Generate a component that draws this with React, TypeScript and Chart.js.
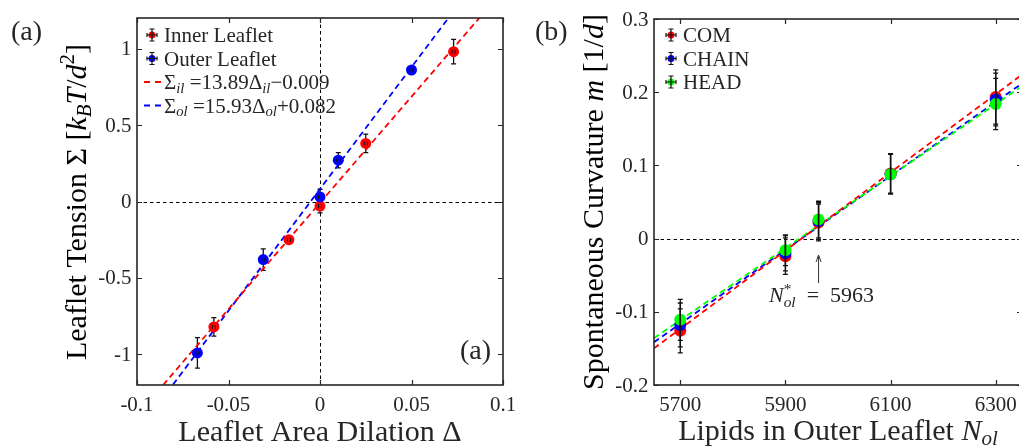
import React, { useEffect, useRef } from "react";
import { Chart, registerables } from "chart.js";
Chart.register(...registerables);

const FONT = '"Liberation Serif", "Times New Roman", serif';
const INK = "#262626";
const RED = "#ff0000";
const BLUE = "#0000ff";
const GREEN = "#00ff00";

// ---------- Panel (a) data ----------
const innerDilation = [-0.058, -0.017, 0.0, 0.025, 0.073];
const innerTension = [-0.82, -0.25, -0.03, 0.38, 0.98];
const innerTensionErr = [0.06, 0.025, 0.045, 0.06, 0.08];
const outerDilation = [-0.067, -0.031, 0.0, 0.01, 0.05];
const outerTension = [-0.99, -0.38, 0.03, 0.27, 0.86];
const outerTensionErr = [0.1, 0.07, 0.05, 0.05, 0.02];
const innerFit = [13.89, -0.009]; // slope, intercept (from legend)
const outerFit = [15.93, 0.082];
const aXRange = [-0.1, 0.1];
const aYRange = [-1.2, 1.2];
const aXTicks = [-0.1, -0.05, 0, 0.05, 0.1];
const aYTicks = [-1, -0.5, 0, 0.5, 1];

// ---------- Panel (b) data ----------
const lipidCounts = [5700, 5900, 5963, 6100, 6300];
const comCurv = [-0.126, -0.024, 0.022, 0.089, 0.1935];
const comErr = [0.03, 0.025, 0.025, 0.027, 0.037];
const chainCurv = [-0.118, -0.02, 0.024, 0.088, 0.19];
const chainErr = [0.03, 0.024, 0.025, 0.027, 0.036];
const headCurv = [-0.111, -0.016, 0.026, 0.088, 0.184];
const headErr = [0.028, 0.021, 0.025, 0.027, 0.035];
const fitLipids = [5650, 6350];
const comFitLine = [-0.15, 0.224];
const chainFitLine = [-0.1415, 0.212];
const headFitLine = [-0.136, 0.2084];
const nStar = 5963;
const bXRange = [5650, 6350];
const bYRange = [-0.2, 0.3];
const bXTicks = [5700, 5900, 6100, 6300];
const bYTicks = [-0.2, -0.1, 0, 0.1, 0.2, 0.3];

type Seg = { t: string; it?: boolean; sub?: boolean; sup?: boolean; stack?: [string, string] };

function setFont(ctx: CanvasRenderingContext2D, size: number, it: boolean) {
  ctx.font = `${it ? "italic " : ""}${size}px ${FONT}`;
}
function segWidth(ctx: CanvasRenderingContext2D, s: Seg, size: number) {
  const small = size * 0.7;
  if (s.stack) {
    setFont(ctx, small, false);
    const a = ctx.measureText(s.stack[0]).width;
    setFont(ctx, small, true);
    const b = ctx.measureText(s.stack[1]).width;
    return Math.max(a, b);
  }
  setFont(ctx, s.sub || s.sup ? small : size, !!s.it);
  return ctx.measureText(s.t).width;
}
function drawRich(ctx: CanvasRenderingContext2D, segs: Seg[], x: number, y: number, size: number, align = "left", color = "#000") {
  ctx.save();
  ctx.fillStyle = color;
  ctx.textBaseline = "alphabetic";
  ctx.textAlign = "left";
  const total = segs.reduce((w, s) => w + segWidth(ctx, s, size), 0);
  let cx = align === "center" ? x - total / 2 : align === "right" ? x - total : x;
  for (const s of segs) {
    const w = segWidth(ctx, s, size);
    const small = size * 0.7;
    if (s.stack) {
      setFont(ctx, small, false);
      ctx.fillText(s.stack[0], cx, y - size * 0.38);
      setFont(ctx, small, true);
      ctx.fillText(s.stack[1], cx, y + size * 0.22);
    } else {
      setFont(ctx, s.sub || s.sup ? small : size, !!s.it);
      const dy = s.sub ? size * 0.18 : s.sup ? -size * 0.4 : 0;
      ctx.fillText(s.t, cx, y + dy);
    }
    cx += w;
  }
  ctx.restore();
}
function drawRotated(ctx: CanvasRenderingContext2D, segs: Seg[], x: number, y: number, size: number) {
  ctx.save();
  ctx.translate(x, y);
  ctx.rotate(-Math.PI / 2);
  drawRich(ctx, segs, 0, 0, size, "center");
  ctx.restore();
}

function drawFrame(chart: any, xTicks: number[], yTicks: number[]) {
  const ctx: CanvasRenderingContext2D = chart.ctx;
  const { left, right, top, bottom } = chart.chartArea;
  const xs = chart.scales.x;
  const ys = chart.scales.y;
  ctx.save();
  ctx.strokeStyle = INK;
  ctx.lineWidth = 1.2;
  const L = 5;
  ctx.beginPath();
  for (const v of xTicks) {
    const p = Math.round(xs.getPixelForValue(v)) + 0.5;
    ctx.moveTo(p, bottom); ctx.lineTo(p, bottom - L);
    ctx.moveTo(p, top); ctx.lineTo(p, top + L);
  }
  for (const v of yTicks) {
    const p = Math.round(ys.getPixelForValue(v)) + 0.5;
    ctx.moveTo(left, p); ctx.lineTo(left + L, p);
    ctx.moveTo(right, p); ctx.lineTo(right - L, p);
  }
  ctx.stroke();
  ctx.lineWidth = 1.6;
  ctx.strokeRect(left, top, right - left, bottom - top);
  // tick labels
  ctx.fillStyle = INK;
  ctx.font = `21px ${FONT}`;
  ctx.textBaseline = "alphabetic";
  ctx.textAlign = "center";
  for (const v of xTicks) ctx.fillText(String(v), xs.getPixelForValue(v), bottom + 25.5);
  ctx.textAlign = "right";
  for (const v of yTicks) ctx.fillText(String(v), left - 5.5, ys.getPixelForValue(v) + 6.5);
  ctx.restore();
}

function drawErrBars(chart: any, xs: number[], ys: number[], es: number[], cap = 3) {
  const ctx: CanvasRenderingContext2D = chart.ctx;
  const sx = chart.scales.x;
  const sy = chart.scales.y;
  ctx.save();
  ctx.strokeStyle = "#111";
  ctx.lineWidth = 1.3;
  ctx.beginPath();
  xs.forEach((xv, i) => {
    const px = sx.getPixelForValue(xv);
    const t = sy.getPixelForValue(ys[i] + es[i]);
    const b = sy.getPixelForValue(ys[i] - es[i]);
    ctx.moveTo(px, t); ctx.lineTo(px, b);
    ctx.moveTo(px - cap, t); ctx.lineTo(px + cap, t);
    ctx.moveTo(px - cap, b); ctx.lineTo(px + cap, b);
  });
  ctx.stroke();
  ctx.restore();
}

function drawXCaps(chart: any, xs: number[], ys: number[]) {
  const ctx: CanvasRenderingContext2D = chart.ctx;
  const sx = chart.scales.x;
  const sy = chart.scales.y;
  ctx.save();
  ctx.strokeStyle = "#111";
  ctx.lineWidth = 1;
  ctx.beginPath();
  xs.forEach((xv, i) => {
    const px = sx.getPixelForValue(xv);
    const py = sy.getPixelForValue(ys[i]);
    ctx.moveTo(px - 1.5, py - 2); ctx.lineTo(px - 1.5, py + 2);
    ctx.moveTo(px + 1.5, py - 2); ctx.lineTo(px + 1.5, py + 2);
  });
  ctx.stroke();
  ctx.restore();
}

function legendErrIcon(ctx: CanvasRenderingContext2D, cx: number, cy: number, color: string) {
  ctx.save();
  ctx.fillStyle = color;
  ctx.beginPath();
  ctx.arc(cx, cy, 3.5, 0, Math.PI * 2);
  ctx.fill();
  ctx.strokeStyle = "#111";
  ctx.lineWidth = 1.2;
  ctx.beginPath();
  ctx.moveTo(cx, cy - 6); ctx.lineTo(cx, cy + 6);
  ctx.moveTo(cx - 2.5, cy - 6); ctx.lineTo(cx + 2.5, cy - 6);
  ctx.moveTo(cx - 2.5, cy + 6); ctx.lineTo(cx + 2.5, cy + 6);
  ctx.moveTo(cx - 5, cy); ctx.lineTo(cx + 5, cy);
  ctx.moveTo(cx - 5, cy - 2); ctx.lineTo(cx - 5, cy + 2);
  ctx.moveTo(cx + 5, cy - 2); ctx.lineTo(cx + 5, cy + 2);
  ctx.stroke();
  ctx.restore();
}
function legendDash(ctx: CanvasRenderingContext2D, x0: number, x1: number, y: number, color: string) {
  ctx.save();
  ctx.strokeStyle = color;
  ctx.lineWidth = 1.8;
  ctx.setLineDash([6, 5]);
  ctx.beginPath();
  ctx.moveTo(x0, y); ctx.lineTo(x1, y);
  ctx.stroke();
  ctx.restore();
}

function zeroLines(chart: any, vertical: boolean) {
  const ctx: CanvasRenderingContext2D = chart.ctx;
  const { left, right, top, bottom } = chart.chartArea;
  const py = Math.round(chart.scales.y.getPixelForValue(0)) + 0.5;
  ctx.save();
  ctx.strokeStyle = "#000";
  ctx.lineWidth = 1;
  ctx.setLineDash([3.5, 3]);
  ctx.beginPath();
  ctx.moveTo(left, py); ctx.lineTo(right, py);
  if (vertical) {
    const px = Math.round(chart.scales.x.getPixelForValue(0)) + 0.5;
    ctx.moveTo(px, top); ctx.lineTo(px, bottom);
  }
  ctx.stroke();
  ctx.restore();
}

const pts = (xs: number[], ys: number[]) => xs.map((x, i) => ({ x, y: ys[i] }));
const fitPts = (fit: number[], range: number[]) => range.map((x) => ({ x, y: fit[0] * x + fit[1] }));

function scaleCfg(range: number[], fixed: { width?: number; height?: number }) {
  return {
    type: "linear",
    min: range[0],
    max: range[1],
    grid: { display: false, drawTicks: false },
    border: { display: false },
    ticks: { display: false },
    afterFit: (s: any) => {
      if (fixed.width !== undefined) s.width = fixed.width;
      if (fixed.height !== undefined) s.height = fixed.height;
    },
  };
}

function configA(): any {
  const plugin = {
    id: "panelA",
    beforeDatasetsDraw(chart: any) {
      zeroLines(chart, true);
      drawErrBars(chart, innerDilation, innerTension, innerTensionErr, 2.5);
      drawErrBars(chart, outerDilation, outerTension, outerTensionErr, 2.5);
    },
    afterDatasetsDraw(chart: any) {
      drawXCaps(chart, innerDilation, innerTension);
      drawXCaps(chart, outerDilation, outerTension);
    },
    afterDraw(chart: any) {
      const ctx: CanvasRenderingContext2D = chart.ctx;
      drawFrame(chart, aXTicks, aYTicks);
      // legend
      legendErrIcon(ctx, 152, 35, RED);
      drawRich(ctx, [{ t: "Inner Leaflet" }], 164, 42, 21, "left", INK);
      legendErrIcon(ctx, 152, 58.5, BLUE);
      drawRich(ctx, [{ t: "Outer Leaflet" }], 164, 65.5, 21, "left", INK);
      legendDash(ctx, 144, 162, 82, RED);
      drawRich(ctx, [{ t: "Σ" }, { t: "il", it: true, sub: true }, { t: " =13.89Δ" }, { t: "il", it: true, sub: true }, { t: "−0.009" }], 164, 89, 21, "left", INK);
      legendDash(ctx, 144, 162, 105.5, BLUE);
      drawRich(ctx, [{ t: "Σ" }, { t: "ol", it: true, sub: true }, { t: " =15.93Δ" }, { t: "ol", it: true, sub: true }, { t: "+0.082" }], 164, 112.5, 21, "left", INK);
      // panel labels
      drawRich(ctx, [{ t: "(a)" }], 11, 40, 28, "left", INK);
      drawRich(ctx, [{ t: "(a)" }], 460, 359, 28, "left", INK);
      // axis titles
      drawRich(ctx, [{ t: "Leaflet Area Dilation Δ" }], 320, 441, 30, "center", INK);
      drawRotated(ctx, [
        { t: "Leaflet Tension Σ [" },
        { t: "k", it: true },
        { t: "B", it: true, sub: true },
        { t: "T", it: true },
        { t: "/" },
        { t: "d", it: true },
        { t: "2", sup: true },
        { t: "]" },
      ], 86, 202, 30);
    },
  };
  return {
    type: "scatter",
    data: {
      datasets: [
        { label: "Outer Leaflet", data: pts(outerDilation, outerTension), backgroundColor: BLUE, borderWidth: 0, pointRadius: 5.5 },
        { label: "Inner Leaflet", data: pts(innerDilation, innerTension), backgroundColor: RED, borderWidth: 0, pointRadius: 5.5 },
        { label: "fit inner", data: fitPts(innerFit, aXRange), showLine: true, borderColor: RED, borderWidth: 1.8, borderDash: [6, 4], pointRadius: 0 },
        { label: "fit outer", data: fitPts(outerFit, aXRange), showLine: true, borderColor: BLUE, borderWidth: 1.8, borderDash: [6, 4], pointRadius: 0 },
      ],
    },
    options: {
      animation: false,
      responsive: false,
      devicePixelRatio: 1,
      events: [],
      layout: { padding: { left: 0, right: 17, top: 18, bottom: 0 } },
      plugins: { legend: { display: false }, tooltip: { enabled: false } },
      scales: {
        x: scaleCfg(aXRange, { height: 61 }),
        y: scaleCfg(aYRange, { width: 137 }),
      },
    },
    plugins: [plugin],
  };
}

function configB(): any {
  const plugin = {
    id: "panelB",
    beforeDatasetsDraw(chart: any) {
      zeroLines(chart, false);
    },
    afterDatasetsDraw(chart: any) {
      drawErrBars(chart, lipidCounts, comCurv, comErr, 2.5);
      drawErrBars(chart, lipidCounts, chainCurv, chainErr, 2.5);
      drawErrBars(chart, lipidCounts, headCurv, headErr, 2.5);
    },
    afterDraw(chart: any) {
      const ctx: CanvasRenderingContext2D = chart.ctx;
      drawFrame(chart, bXTicks, bYTicks);
      legendErrIcon(ctx, 151, 35, RED);
      drawRich(ctx, [{ t: "COM" }], 163, 42, 21, "left", INK);
      legendErrIcon(ctx, 151, 58.5, BLUE);
      drawRich(ctx, [{ t: "CHAIN" }], 163, 65.5, 21, "left", INK);
      legendErrIcon(ctx, 151, 82, GREEN);
      drawRich(ctx, [{ t: "HEAD" }], 163, 89, 21, "left", INK);
      drawRich(ctx, [{ t: "(b)" }], 15, 40, 28, "left", INK);
      // annotation
      const ax = chart.scales.x.getPixelForValue(nStar);
      ctx.save();
      ctx.strokeStyle = "#333";
      ctx.lineWidth = 1;
      ctx.beginPath();
      ctx.moveTo(ax, 283); ctx.lineTo(ax, 256);
      ctx.moveTo(ax - 2.5, 262); ctx.lineTo(ax, 255); ctx.lineTo(ax + 2.5, 262);
      ctx.stroke();
      ctx.restore();
      drawRich(ctx, [{ t: "N", it: true }, { t: "", stack: ["*", "ol"] }, { t: "\u2002=\u2002" + String(nStar) }], 249, 302, 22, "left", INK);
      // axis titles
      drawRich(ctx, [{ t: "Lipids in Outer Leaflet " }, { t: "N", it: true }, { t: "ol", it: true, sub: true }], 318, 440, 30, "center", INK);
      drawRotated(ctx, [
        { t: "Spontaneous Curvature " },
        { t: "m", it: true },
        { t: " [1/" },
        { t: "d", it: true },
        { t: "]" },
      ], 83, 202, 30);
    },
  };
  const pointDs = (label: string, ys: number[], color: string) => ({ label, data: pts(lipidCounts, ys), backgroundColor: color, borderWidth: 0, pointRadius: 6 });
  const fitDs = (label: string, ys: number[], color: string) => ({ label, data: pts(fitLipids, ys), showLine: true, borderColor: color, borderWidth: 1.8, borderDash: [6, 4], pointRadius: 0 });
  return {
    type: "scatter",
    data: {
      datasets: [
        pointDs("HEAD", headCurv, GREEN),
        pointDs("CHAIN", chainCurv, BLUE),
        pointDs("COM", comCurv, RED),
        fitDs("COM fit", comFitLine, RED),
        fitDs("HEAD fit", headFitLine, GREEN),
        fitDs("CHAIN fit", chainFitLine, BLUE),
      ],
    },
    options: {
      animation: false,
      responsive: false,
      devicePixelRatio: 1,
      events: [],
      layout: { padding: { left: 0, right: 8, top: 19, bottom: 0 } },
      plugins: { legend: { display: false }, tooltip: { enabled: false } },
      scales: {
        x: scaleCfg(bXRange, { height: 61 }),
        y: scaleCfg(bYRange, { width: 134 }),
      },
    },
    plugins: [plugin],
  };
}

export default function App() {
  const aRef = useRef<HTMLCanvasElement>(null);
  const bRef = useRef<HTMLCanvasElement>(null);
  useEffect(() => {
    const ca = new Chart(aRef.current as HTMLCanvasElement, configA());
    const cb = new Chart(bRef.current as HTMLCanvasElement, configB());
    return () => {
      ca.destroy();
      cb.destroy();
    };
  }, []);
  return (
    <div style={{ position: "fixed", left: 0, top: 0, width: 1019, height: 446, overflow: "hidden", background: "#fff" }}>
      <canvas ref={aRef} width={520} height={446} style={{ position: "absolute", left: 0, top: 0, width: 520, height: 446 }} />
      <canvas ref={bRef} width={510} height={446} style={{ position: "absolute", left: 520, top: 0, width: 510, height: 446 }} />
    </div>
  );
}
